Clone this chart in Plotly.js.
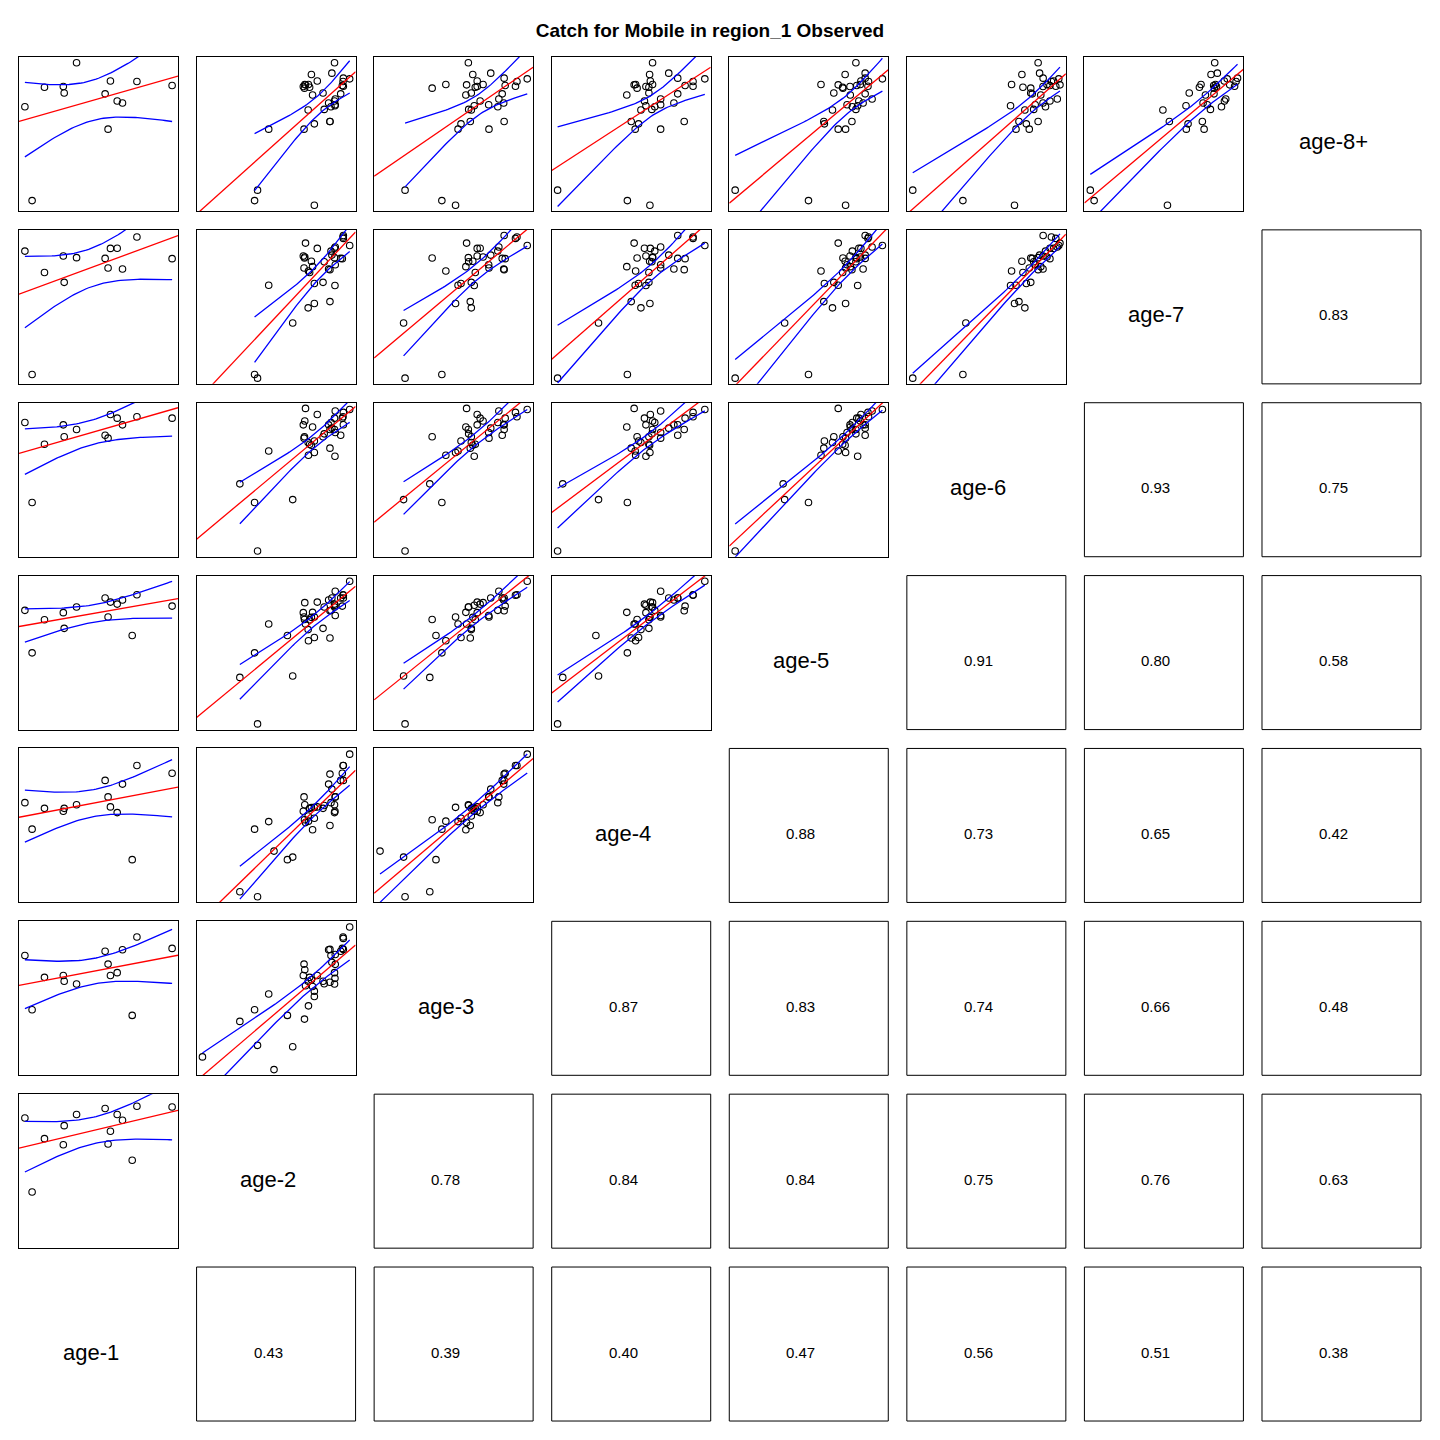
<!DOCTYPE html>
<html><head><meta charset="utf-8">
<script src="https://cdn.plot.ly/plotly-3.0.1.min.js"></script>
<style>html,body{margin:0;padding:0;background:#fff}</style>
</head><body><div id="chart" style="width:1440px;height:1440px"></div>
<script>
// ---- data (normalised catch index per cohort) ----
const ageLabels = ['age-1','age-2','age-3','age-4','age-5','age-6','age-7','age-8+'];
const age1 = [null,.049,null,null,null,null,null,null,.267,.133,null,null,.663,.565,null,null,null,null,1.0,.545,null,.351,null,.261,null,0,.581,.627,null,null,null,null,.761,null,null,.729,null,null,null];
const age2 = [.374,.354,.76,.718,.866,.90,.45,.76,.819,.728,.72,.866,.857,.69,.748,.902,.827,.74,.95,.939,.693,.897,.695,.685,.879,.873,.78,.897,.902,.957,.70,.957,.955,1.0,.254,.577,.613,.486,0];
const age3 = [.17,.42,.513,.62,.613,.64,.53,.55,.62,.647,.447,.843,.84,.74,.583,.738,.602,.63,.85,.83,.354,.60,.70,.66,.752,.80,.66,.68,.807,.843,.588,.92,.93,1.0,.338,.38,.16,0,.089];
const age4 = [0,.474,.627,.566,.50,.60,.527,.55,.62,.62,.53,.86,.79,.70,.47,.70,.64,.625,.866,.816,.54,.645,.645,.60,.755,.66,.63,.59,.70,.816,.52,.92,.92,1.0,.035,.26,.278,.32,null];
const age5 = [0,.498,.75,.661,.602,.832,.70,.606,.67,.73,.583,.793,.869,.75,.782,.76,.82,.747,.826,.883,.732,.82,.85,.78,.883,.796,.854,.84,.93,.883,.70,.902,.906,1.0,.326,.62,.336,null,null];
const age6 = [0,.34,.69,.76,.72,.663,.70,.77,.80,.747,.67,.85,.883,.79,.868,.83,.82,.74,.93,.81,.80,.85,.91,.883,.86,.90,.955,.93,.98,.884,.998,.97,.94,.99,.47,null,.36,null,null];
const age7 = [0,.026,.524,.493,.537,.65,.652,.664,.672,.741,.752,.761,.766,.773,.782,.795,.816,.82,.838,.84,.843,.845,.85,.857,.863,.891,.91,.911,.92,1.0,.947,.98,.99,.93,null,null,.387,null,null];
const age8 = [.106,.033,0,.667,.587,.697,.533,.57,.786,.826,.845,.587,.716,.533,.772,.704,.671,.915,.838,.78,.82,.998,.845,.831,.925,.69,.87,.73,.744,.89,.843,.833,.866,.885,null,null,null,null,null];
// correlations printed in the lower-right panels (age-i with the older ages)
const corrAge1 = [0.43,0.39,0.40,0.47,0.56,0.51,0.38];
const corrAge2 = [0.78,0.84,0.84,0.75,0.76,0.63];
const corrAge3 = [0.87,0.83,0.74,0.66,0.48];
const corrAge4 = [0.88,0.73,0.65,0.42];
const corrAge5 = [0.91,0.80,0.58];
const corrAge6 = [0.93,0.75];
const corrAge7 = [0.83];
const chartTitle = 'Catch for Mobile in region_1 Observed';

// ---- layout helpers ----
const vars = [age1,age2,age3,age4,age5,age6,age7,age8];
const corr = [corrAge1,corrAge2,corrAge3,corrAge4,corrAge5,corrAge6,corrAge7];
const W = 1440, H = 1440;
const colL = c => 19 + c*177.57, PW = 159;
const rowT = r => 57 + r*172.86, PH = 154;
const px = x => x / W, py = y => 1 - y / H;
const FONT = 'Liberation Sans, Arial, Helvetica, sans-serif';
const TX = -8, TY = 8; // text offset inside panels (px)

function rangeOf(a){
  const v = a.filter(d => d !== null);
  const mn = Math.min(...v), mx = Math.max(...v), d = (mx - mn) * 0.04;
  return [mn - d, mx + d];
}
function tq(df){ // 97.5% Student t quantile (Cornish-Fisher)
  const z = 1.959964;
  const g1=(z**3+z)/4, g2=(5*z**5+16*z**3+3*z)/96, g3=(3*z**7+19*z**5+17*z**3-15*z)/384,
        g4=(79*z**9+776*z**7+1482*z**5-1920*z**3-945*z)/92160;
  return z + g1/df + g2/df**2 + g3/df**3 + g4/df**4;
}

const traces = [], annotations = [], shapes = [];
const layout = {
  width: W, height: H, margin:{l:0,r:0,t:0,b:0}, showlegend:false,
  paper_bgcolor:'#fff', plot_bgcolor:'#fff',
  title:{text:'<b>'+chartTitle+'</b>', font:{family:FONT,size:19,color:'#000'},
         xref:'paper', x:710/W, xanchor:'center', yref:'paper', y:py(30), yanchor:'middle'},
  annotations, shapes
};
let k = 0;
for (let r = 0; r < 8; r++){
  for (let c = 0; c < 8; c++){
    const i = 7 - r, j = c;
    const x0 = px(colL(c)), x1 = px(colL(c)+PW), y1 = py(rowT(r)), y0 = py(rowT(r)+PH);
    const tx = px(colL(c)+PW/2+TX), ty = py(rowT(r)+PH/2+TY);
    if (j === i){
      annotations.push({xref:'paper',yref:'paper',x:tx,y:ty,text:ageLabels[i],showarrow:false,
        xanchor:'center',yanchor:'middle',font:{family:FONT,size:22,color:'#000'}});
    } else if (j > i){
      shapes.push({type:'rect',xref:'paper',yref:'paper',x0,x1,y0,y1,line:{color:'#000',width:1},fillcolor:'rgba(0,0,0,0)'});
      annotations.push({xref:'paper',yref:'paper',x:tx,y:ty,text:corr[i][j-i-1].toFixed(2),showarrow:false,
        xanchor:'center',yanchor:'middle',font:{family:FONT,size:15,color:'#000'}});
    } else {
      k++;
      const xa = k === 1 ? 'xaxis' : 'xaxis'+k, ya = k === 1 ? 'yaxis' : 'yaxis'+k;
      const xr = k === 1 ? 'x' : 'x'+k, yr = k === 1 ? 'y' : 'y'+k;
      const X = [], Y = [];
      vars[j].forEach((v,n) => { if (v !== null && vars[i][n] !== null){ X.push(v); Y.push(vars[i][n]); } });
      const rx = rangeOf(vars[j]), ry = rangeOf(vars[i]);
      const ax = {showticklabels:false, ticks:'', showgrid:false, zeroline:false,
        showline:true, mirror:true, linecolor:'#000', linewidth:1, fixedrange:true};
      layout[xa] = Object.assign({}, ax, {domain:[x0,x1], range:rx, anchor:yr});
      layout[ya] = Object.assign({}, ax, {domain:[y0,y1], range:ry, anchor:xr});
      traces.push({type:'scatter',mode:'markers',x:X,y:Y,xaxis:xr,yaxis:yr,hoverinfo:'skip',
        marker:{symbol:'circle-open',size:6.5,color:'#000',line:{width:1.1,color:'#000'}}});
      // regression + 95% confidence band for the mean
      const n = X.length, mx = X.reduce((a,b)=>a+b,0)/n, my = Y.reduce((a,b)=>a+b,0)/n;
      let sxx=0, sxy=0; for (let q=0;q<n;q++){ sxx+=(X[q]-mx)**2; sxy+=(X[q]-mx)*(Y[q]-my); }
      const b = sxy/sxx, a = my - b*mx;
      let sse = 0; for (let q=0;q<n;q++) sse += (Y[q]-a-b*X[q])**2;
      const s = Math.sqrt(sse/(n-2)), t = tq(n-2);
      traces.push({type:'scatter',mode:'lines',x:rx,y:rx.map(v=>a+b*v),xaxis:xr,yaxis:yr,hoverinfo:'skip',
        line:{color:'#ff0000',width:1.3}});
      const xmin = Math.min(...X), xmax = Math.max(...X), gx = [], up = [], lo = [];
      for (let q=0;q<=60;q++){
        const xv = xmin + (xmax-xmin)*q/60, f = a+b*xv, se = s*Math.sqrt(1/n + (xv-mx)**2/sxx);
        gx.push(xv); up.push(f+t*se); lo.push(f-t*se);
      }
      traces.push({type:'scatter',mode:'lines',x:gx,y:up,xaxis:xr,yaxis:yr,hoverinfo:'skip',line:{color:'#0000ff',width:1.3}});
      traces.push({type:'scatter',mode:'lines',x:gx,y:lo,xaxis:xr,yaxis:yr,hoverinfo:'skip',line:{color:'#0000ff',width:1.3}});
    }
  }
}
Plotly.newPlot('chart', traces, layout, {displayModeBar:false, staticPlot:true});
</script></body></html>
